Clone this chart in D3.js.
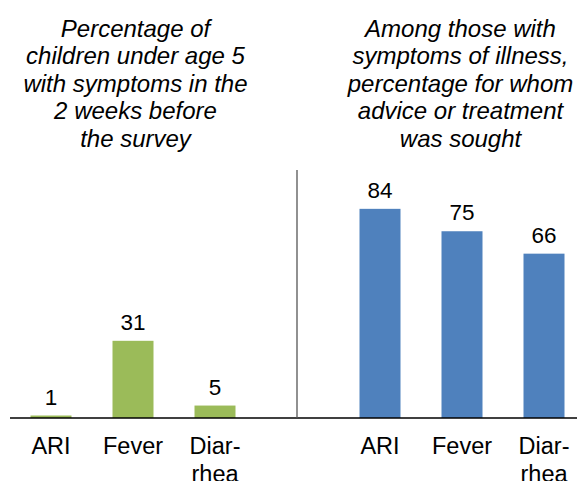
<!DOCTYPE html>
<html>
<head>
<meta charset="utf-8">
<script src="https://cdn.jsdelivr.net/npm/d3@7"></script>
<style>
  html, body { margin: 0; padding: 0; background: #fff; }
  svg { display: block; }
  text { font-family: "Liberation Sans", Arial, sans-serif; fill: #000; }
</style>
</head>
<body>
<svg id="chart" width="577" height="481"></svg>
<script>
// Categories shared by both panels (label lines)
const categories = ["ARI", "Fever", "Diarrhea"];
const categoryLines = [["ARI"], ["Fever"], ["Diar-", "rhea"]];

// Left panel: % of children under 5 with symptoms
const symptomValues = [1, 31, 5];
// Right panel: % for whom advice or treatment was sought
const soughtValues = [84, 75, 66];

const leftTitle = ["Percentage of", "children under age 5", "with symptoms in the", "2 weeks before", "the survey"];
const rightTitle = ["Among those with", "symptoms of illness,", "percentage for whom", "advice or treatment", "was sought"];

const svg = d3.select("#chart");
const baseY = 418;

const y = d3.scaleLinear().domain([0, 100]).range([baseY, 169]);

const panels = [
  { values: symptomValues, color: "#9BBB59", range: [10, 256], title: leftTitle, titleX: 135.5 },
  { values: soughtValues, color: "#4F81BD", range: [339, 585], title: rightTitle, titleX: 460.5 }
];

panels.forEach(p => {
  const x = d3.scaleBand()
    .domain(categories)
    .range(p.range)
    .paddingInner(0.5)
    .paddingOuter(0.25);

  const g = svg.append("g");

  // Bars
  g.selectAll("rect.bar")
    .data(p.values)
    .join("rect")
    .attr("class", "bar")
    .attr("x", (d, i) => x(categories[i]))
    .attr("width", x.bandwidth())
    .attr("y", d => y(d))
    .attr("height", d => baseY - y(d))
    .attr("fill", p.color);

  // Value labels
  g.selectAll("text.val")
    .data(p.values)
    .join("text")
    .attr("class", "val")
    .attr("x", (d, i) => x(categories[i]) + x.bandwidth() / 2)
    .attr("y", d => y(d) - 11)
    .attr("text-anchor", "middle")
    .style("font-size", "22.5px")
    .text(d => d);

  // Category labels
  const cat = g.selectAll("text.cat")
    .data(categories)
    .join("text")
    .attr("class", "cat")
    .attr("text-anchor", "middle")
    .attr("transform", d => `translate(${x(d) + x.bandwidth() / 2},454)`)
    .style("font-size", "23.5px");
  cat.each(function (d, i) {
    d3.select(this).selectAll("tspan")
      .data(categoryLines[i])
      .join("tspan")
      .attr("x", 0)
      .attr("y", (t, j) => j * 28)
      .text(t => t);
  });

  // Panel title
  svg.append("text")
    .attr("text-anchor", "middle")
    .style("font-size", "24px")
    .style("font-style", "italic")
    .selectAll("tspan")
    .data(p.title)
    .join("tspan")
    .attr("x", p.titleX)
    .attr("y", (t, j) => 37 + j * 27.4)
    .text(t => t);
});

// Baseline
svg.append("line")
  .attr("x1", 10).attr("x2", 577)
  .attr("y1", baseY).attr("y2", baseY)
  .attr("stroke", "#000").attr("stroke-width", 1.3);

// Divider between panels
svg.append("line")
  .attr("x1", 297).attr("x2", 297)
  .attr("y1", 170).attr("y2", baseY)
  .attr("stroke", "#555").attr("stroke-width", 1.3);
</script>
</body>
</html>
